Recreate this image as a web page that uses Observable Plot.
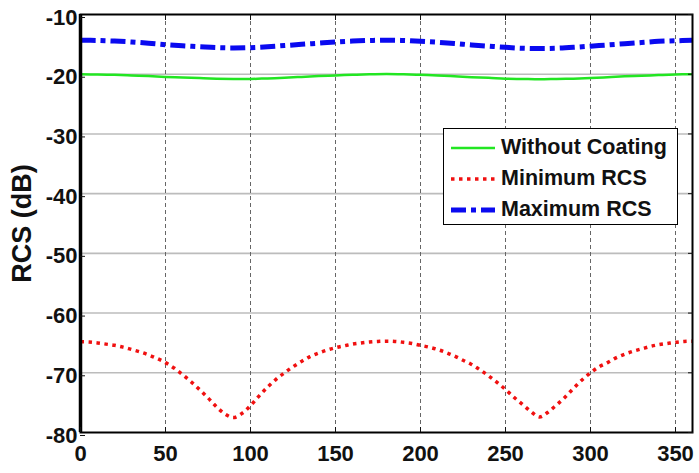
<!DOCTYPE html>
<html>
<head>
<meta charset="utf-8">
<script src="https://cdn.jsdelivr.net/npm/d3@7"></script>
<script src="https://cdn.jsdelivr.net/npm/@observablehq/plot@0.6"></script>
<style>
  html, body { margin: 0; padding: 0; background: #fff; }
  #chart { position: relative; width: 699px; height: 473px; overflow: hidden;
           font-family: "Liberation Sans", Arial, Helvetica, sans-serif; }
  #chart svg { display: block; }
  .legend { position: absolute; left: 443px; top: 128px; width: 235px; height: 97px;
            border: 1.5px solid #000; background: #fff; box-sizing: border-box; padding-top: 3px; }
  .legend .row { display: flex; align-items: center; height: 31px; }
  .legend svg { margin-left: 7px; margin-right: 6px; flex: none; }
  .legend span { font-weight: bold; font-size: 21.5px; color: #111; white-space: nowrap; }
</style>
</head>
<body>
<div id="chart"></div>
<script>
// Azimuth angle (degrees)
const phiCoarse = [0,10,20,30,40,50,60,70,80,90,100,110,120,130,140,150,160,170,180,
  190,200,210,220,230,240,250,260,270,280,290,300,310,320,330,340,350,360];
const phiFine = [0,5,10,15,20,25,30,35,40,45,50,55,60,65,70,75,80,85,90,95,100,105,110,115,120,
  125,130,135,140,145,150,155,160,165,170,175,180,185,190,195,200,205,210,215,220,225,230,235,240,
  245,250,255,260,265,270,275,280,285,290,295,300,305,310,315,320,325,330,335,340,345,350,355,360];

// RCS of the bare target (dB)
const withoutCoating = [-20.0,-20.05,-20.1,-20.2,-20.3,-20.45,-20.55,-20.65,-20.75,-20.8,-20.8,-20.7,-20.6,
  -20.45,-20.3,-20.2,-20.1,-20.0,-19.95,-20.0,-20.1,-20.2,-20.35,-20.5,-20.6,-20.75,-20.8,-20.85,-20.8,
  -20.75,-20.65,-20.5,-20.35,-20.25,-20.15,-20.05,-20.0];

// Maximum RCS with coating (dB)
const maximumRCS = [-14.3,-14.35,-14.45,-14.6,-14.8,-15.05,-15.25,-15.4,-15.55,-15.6,-15.55,-15.4,-15.2,
  -15.0,-14.8,-14.6,-14.45,-14.35,-14.3,-14.35,-14.5,-14.65,-14.85,-15.1,-15.3,-15.5,-15.65,-15.7,-15.65,
  -15.5,-15.3,-15.1,-14.9,-14.7,-14.5,-14.4,-14.3];

// Minimum RCS with coating (dB)
const minimumRCS = [-64.8,-64.85,-65.0,-65.2,-65.4,-65.7,-66.1,-66.5,-67.0,-67.6,-68.3,-69.2,-70.3,-71.5,
  -72.8,-74.2,-75.7,-76.9,-77.5,-76.8,-75.5,-73.9,-72.4,-71.1,-70.0,-69.0,-68.1,-67.3,-66.7,-66.2,-65.8,
  -65.5,-65.2,-65.0,-64.85,-64.75,-64.7,-64.75,-64.9,-65.1,-65.4,-65.7,-66.1,-66.6,-67.2,-67.9,-68.6,
  -69.5,-70.5,-71.6,-72.8,-74.1,-75.3,-76.5,-77.4,-76.6,-75.4,-74.1,-72.6,-71.2,-70.0,-69.0,-68.3,-67.5,
  -66.9,-66.4,-66.0,-65.6,-65.3,-65.1,-64.9,-64.75,-64.7];

const xTicks = [0,50,100,150,200,250,300,350];
const xTickLabels = ["0","50","100","150","200","250","300","350"];
const yTicks = [-80,-70,-60,-50,-40,-30,-20,-10];
const yTickLabels = ["-80","-70","-60","-50","-40","-30","-20","-10"];
const xLabel = "φ";
const yLabel = "RCS (dB)";

const seriesNames = ["Without Coating", "Minimum RCS", "Maximum RCS"];
const seriesColors = ["#22e622", "#f01010", "#0a0af0"];
const seriesWidths = [2.5, 3.5, 5];
const seriesDashes = [null, "3.5,4.5", "15,5,5,5"];

const rows = (xs, ys) => xs.map((x, i) => ({phi: x, rcs: ys[i]}));
const green = rows(phiCoarse, withoutCoating);
const red = rows(phiFine, minimumRCS);
const blue = rows(phiCoarse, maximumRCS);

const line = (data, k) => Plot.line(data, {
  x: "phi", y: "rcs", curve: "catmull-rom",
  stroke: seriesColors[k], strokeWidth: seriesWidths[k],
  strokeDasharray: seriesDashes[k], strokeLinecap: "butt", clip: true
});

const chart = Plot.plot({
  width: 699, height: 473,
  marginLeft: 80, marginRight: 7, marginTop: 14, marginBottom: 41,
  style: { fontFamily: "'Liberation Sans', Arial, Helvetica, sans-serif", fontSize: "22px",
           fontWeight: "bold", background: "white", color: "#111" },
  x: { domain: [0, 360] },
  y: { domain: [-80, -10] },
  marks: [
    Plot.gridY(yTicks.slice(1, -1), { stroke: "#bcbcbc", strokeOpacity: 1, strokeWidth: 1.6 }),
    Plot.gridX(xTicks.slice(1), { stroke: "#666", strokeOpacity: 1, strokeWidth: 1, strokeDasharray: "4,3" }),
    line(green, 0),
    line(red, 1),
    line(blue, 2),
    Plot.frame({ stroke: "#000", strokeWidth: 2 }),
    Plot.ruleX([0], { stroke: "#000", strokeWidth: 3.5 }),
    Plot.axisX(xTicks, { anchor: "bottom", tickSize: -5, tickPadding: 18,
      tickFormat: d => xTickLabels[xTicks.indexOf(d)], label: null }),
    Plot.axisX(xTicks, { anchor: "top", tickSize: -5, tickFormat: () => "", label: null }),
    Plot.axisY(yTicks, { anchor: "left", tickSize: -5, tickPadding: 8, dy: 3,
      tickFormat: d => yTickLabels[yTicks.indexOf(d)], label: null }),
    Plot.axisY(yTicks, { anchor: "right", tickSize: -5, tickFormat: () => "", label: null }),
    Plot.text([yLabel], { frameAnchor: "left", rotate: -90, dx: -58, fontSize: 27,
      fontWeight: "bold", textAnchor: "middle" }),
    Plot.text([xLabel], { frameAnchor: "bottom", lineAnchor: "top", dy: 36, fontSize: 27,
      fontWeight: "bold" })
  ]
});

const root = document.getElementById("chart");
root.appendChild(chart);

// Legend box inside the plot area
const legend = document.createElement("div");
legend.className = "legend";
seriesNames.forEach((name, k) => {
  const row = document.createElement("div");
  row.className = "row";
  const ns = "http://www.w3.org/2000/svg";
  const s = document.createElementNS(ns, "svg");
  s.setAttribute("width", 44); s.setAttribute("height", 10);
  const l = document.createElementNS(ns, "line");
  l.setAttribute("x1", 0); l.setAttribute("x2", 44);
  l.setAttribute("y1", 5); l.setAttribute("y2", 5);
  l.setAttribute("stroke", seriesColors[k]);
  l.setAttribute("stroke-width", seriesWidths[k]);
  if (seriesDashes[k]) l.setAttribute("stroke-dasharray", seriesDashes[k]);
  s.appendChild(l);
  const t = document.createElement("span");
  t.textContent = name;
  row.appendChild(s); row.appendChild(t);
  legend.appendChild(row);
});
root.appendChild(legend);
</script>
</body>
</html>
